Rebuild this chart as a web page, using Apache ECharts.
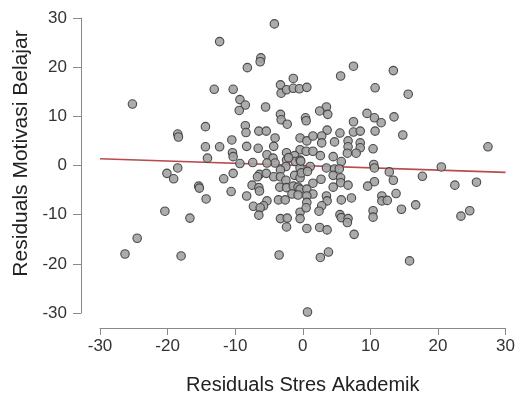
<!DOCTYPE html>
<html>
<head>
<meta charset="utf-8">
<script src="https://cdn.jsdelivr.net/npm/echarts@6/dist/echarts.min.js"></script>
<style>
html,body{margin:0;padding:0;background:#fff;}
#chart{width:518px;height:400px;}
</style>
</head>
<body>
<div id="chart"></div>
<script>
// Residuals Stres Akademik (x) for each point
const stresX = [
 -4.2,-12.3,-6.2,-6.3,-8.2,-1.4,-3.3,-3.2,-2.4,-1.4,-0.5,0.6,-13.1,-10.3,-25.2,-9.3,-8.5,-9.4,-5.5,-3.3,
 5.6,7.5,13.4,10.7,15.6,3.5,2.5,3.7,9.5,13.5,-3.2,-2.3,0.4,0.5,10.6,11.6,7.5,-14.4,-8.5,-8.4,
 -6.5,-5.4,-18.5,-18.4,-10.5,-4.1,3.6,5.5,7.5,8.5,10.7,14.8,-0.4,0.6,1.5,2.8,2.8,4.7,6.7,6.7,
 8.5,8.5,6.6,7.9,10.4,27.4,-0.4,0.5,1.5,2.6,4.5,5.7,-14.4,-12.3,-8.3,-6.6,-4.3,-10.4,-10.3,-14.1,
 -2.4,-5.3,-4.4,-4.1,-5.3,-2.4,-1.2,-1.1,-9.3,-7.4,-0.4,10.5,-2.5,1.1,-0.4,3.5,4.7,5.4,10.6,20.5,
 -18.5,-3.3,-20.1,-10.3,12.8,-6.4,-5.4,-19.1,-11.7,-6.7,-4.3,-3.3,-1.2,-0.4,-2.5,17.7,4.5,5.6,2.7,13.4,
 10.6,25.7,1.5,5.6,6.7,9.6,22.5,-15.4,-15.3,-7.5,-6.5,-6.4,-3.4,-2.4,-1.4,-0.7,4.5,-0.4,0.6,-10.6,
 1.5,0.6,13.8,-1.6,-0.7,-8.3,11.7,3.5,3.6,5.7,7.2,-14.3,-3.6,-2.6,-5.3,11.7,12.5,0.6,-5.8,-7.3,
 -6.3,2.8,16.7,14.6,2.4,-20.4,-0.4,10.4,24.7,-6.5,5.5,5.7,6.7,6.6,-0.4,10.4,23.4,-16.7,-3.3,-2.3,
 -2.4,0.6,2.5,3.6,7.6,-24.5,-26.3,-18.0,-3.5,2.6,3.8,15.8,0.7,-0.2,0.7,-2.1,-0.3,0.5
];
// Residuals Motivasi Belajar (y) for each point
const motivasiY = [
 28.8,25.2,21.9,21.1,19.9,17.7,16.4,14.7,15.4,15.7,15.6,15.9,15.5,15.5,12.5,13.4,12.3,11.2,11.9,10.4,
 18.2,20.2,19.3,15.8,14.5,11.9,11.1,10.4,10.6,9.9,9.3,8.4,9.7,9.1,9.7,8.7,8.9,7.9,8.1,6.7,
 7.0,7.0,6.4,5.8,5.2,5.6,7.2,6.6,6.8,7.0,7.0,6.2,5.6,5.0,6.0,6.0,4.6,4.8,5.0,3.8,
 4.6,3.6,2.5,2.5,3.4,3.8,3.2,2.9,2.9,2.0,1.8,0.8,3.8,3.8,3.9,3.5,3.9,2.6,1.8,1.5,
 2.6,2.2,1.5,0.5,0.5,1.1,2.0,0.8,0.4,0.6,1.1,0.2,-0.2,-0.2,-0.5,-0.5,-0.7,-0.7,-0.5,-0.3,
 -0.5,-0.9,-1.6,-1.6,-1.3,-1.8,-1.6,-2.7,-2.7,-2.3,-2.3,-2.3,-2.0,-2.5,-3.0,-2.2,-2.0,-2.5,-2.8,-3.0,
 -3.3,-3.4,-3.6,-3.5,-4.0,-4.2,-4.0,-4.2,-4.6,-4.0,-4.5,-5.2,-4.4,-4.5,-4.2,-4.4,-4.4,-4.8,-4.8,-5.3,
 -5.8,-6.2,-5.7,-5.8,-6.0,-6.2,-6.2,-6.2,-7.2,-7.0,-6.6,-6.8,-7.0,-7.0,-7.2,-7.2,-7.1,-7.5,-8.2,-8.3,
 -8.6,-8.2,-8.0,-8.9,-9.3,-9.3,-9.5,-9.2,-9.2,-10.1,-10.0,-10.6,-10.8,-11.6,-10.8,-10.5,-10.3,-10.7,-10.8,-10.7,
 -12.5,-12.8,-12.6,-13.1,-14.0,-14.8,-18.0,-18.4,-18.2,-18.7,-17.6,-19.4,-29.8,-1.5,-1.2,1.6,0.9,-8.6
];
// Regression line endpoints
const fitX = [-30, 30];
const fitY = [1.36, -1.40];
// Axis ticks
const xTicks = [-30, -20, -10, 0, 10, 20, 30];
const yTicks = [-30, -20, -10, 0, 10, 20, 30];

const points = stresX.map((x, i) => [x, motivasiY[i]]);
const fitLine = fitX.map((x, i) => [x, fitY[i]]);

const chart = echarts.init(document.getElementById('chart'), null, {renderer: 'canvas'});
const axisCommon = {
  type: 'value',
  interval: 10,
  splitLine: {show: false},
  axisLine: {show: true, onZero: false, lineStyle: {color: '#8a8a8a', width: 1}},
  axisTick: {show: true, length: 7, lineStyle: {color: '#8a8a8a', width: 1}},
  nameLocation: 'middle'
};
chart.setOption({
  animation: false,
  backgroundColor: '#ffffff',
  grid: {left: 100, right: 9, top: 18, bottom: 80, containLabel: false},
  xAxis: Object.assign({}, axisCommon, {
    min: xTicks[0], max: xTicks[xTicks.length - 1],
    offset: 15,
    name: 'Residuals Stres Akademik',
    nameGap: 47,
    nameTextStyle: {fontFamily: 'Liberation Sans', fontSize: 20, color: '#222'},
    axisLabel: {margin: 10, fontFamily: 'Liberation Sans', fontSize: 17, color: '#333'}
  }),
  yAxis: Object.assign({}, axisCommon, {
    min: yTicks[0], max: yTicks[yTicks.length - 1],
    offset: 19,
    name: 'Residuals Motivasi Belajar',
    nameGap: 48,
    nameTextStyle: {fontFamily: 'Liberation Sans', fontSize: 21, color: '#222', padding: [0, 0, 0, 24]},
    axisTick: {show: true, length: 8, lineStyle: {color: '#8a8a8a', width: 1}},
    axisLabel: {margin: 14, fontFamily: 'Liberation Sans', fontSize: 17, color: '#333'}
  }),
  series: [
    {
      type: 'line',
      data: fitLine,
      showSymbol: false,
      silent: true,
      z: 1,
      lineStyle: {color: '#b94a4d', width: 1.6}
    },
    {
      type: 'scatter',
      data: points,
      symbol: 'circle',
      symbolSize: 8.5,
      z: 2,
      itemStyle: {color: '#a3a3a3', borderColor: '#3c3c3c', borderWidth: 1.1, opacity: 0.9}
    }
  ]
});
</script>
</body>
</html>
